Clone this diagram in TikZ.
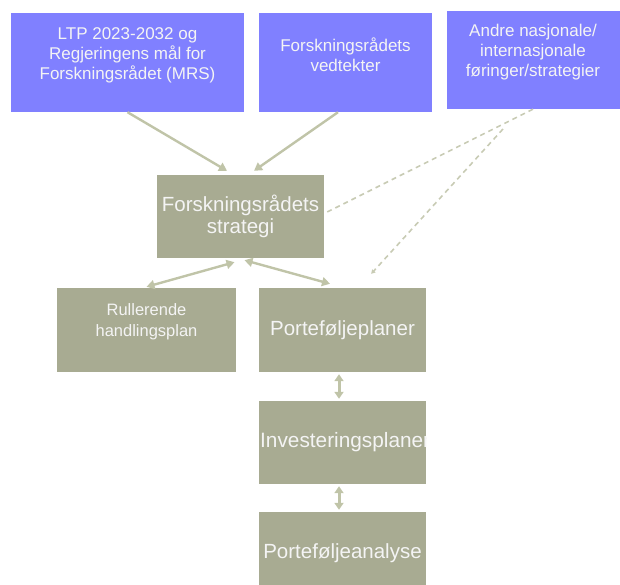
\documentclass[tikz,border=0pt]{standalone}
\usepackage{fontspec}
\setmainfont{Liberation Sans}
\usetikzlibrary{arrows.meta}
\definecolor{topblue}{RGB}{128,128,255}
\definecolor{olivebox}{RGB}{168,171,146}
\definecolor{conncol}{RGB}{192,196,168}
\definecolor{dashcol}{RGB}{200,203,180}
\definecolor{txtcol}{RGB}{244,244,244}
\begin{document}
\begin{tikzpicture}[x=1pt,y=-1pt,
  topbox/.style={fill=topblue, draw=none, inner sep=0pt},
  olbox/.style={fill=olivebox, draw=none, inner sep=0pt, text=txtcol, align=center},
  toptext/.style={text=txtcol, align=center, font=\fontsize{17}{20}\selectfont, inner sep=0pt},
  bigtext/.style={font=\fontsize{20.5}{22}\selectfont},
  midtext/.style={text=txtcol, align=center, font=\fontsize{16.5}{21}\selectfont, inner sep=0pt},
  onearrow/.style={draw=conncol, line width=2.4pt, -{Triangle[length=8pt,width=9pt]}},
  twoarrow/.style={draw=conncol, line width=2.4pt, {Triangle[length=8pt,width=9pt]}-{Triangle[length=8pt,width=9pt]}},
  shortarrow/.style={draw=conncol, line width=3pt, {Triangle[length=7pt,width=9pt]}-{Triangle[length=7pt,width=9pt]}},
  dashline/.style={draw=dashcol, line width=1.6pt, dash pattern=on 5pt off 4pt},
]
\useasboundingbox (0,0) rectangle (620,585);
\clip (0,0) rectangle (620,585);

% top boxes
\node[topbox, minimum width=233pt, minimum height=99pt] (b1) at (127.5,62.5) {};
\node[topbox, minimum width=173pt, minimum height=99pt] (b2) at (345.5,62.5) {};
\node[topbox, minimum width=178pt, minimum height=98pt] (b3) at (536,60) {};
\node[toptext] (b1t) at (127.5,55) {LTP 2023-2032 og\\Regjeringens mål for\\Forskningsrådet (MRS)};
\node[toptext] (b2t) at (345.5,55) {Forskningsrådets\\vedtekter};
\node[toptext] (b3t) at (533,52) {Andre nasjonale/\\internasjonale\\føringer/strategier};

% olive boxes
\node[olbox, bigtext, minimum width=167pt, minimum height=83pt] (strat) at (240.5,216.5) {Forskningsrådets\\strategi};
\node[olbox, minimum width=179pt, minimum height=84pt] (rull) at (146.5,330) {};
\node[midtext] (rullt) at (146.5,321.5) {Rullerende\\handlingsplan};
\node[olbox, bigtext, minimum width=167pt, minimum height=84pt] (pp) at (342.5,330) {Porteføljeplaner};
\node[olbox, minimum width=167pt, minimum height=83pt] (inv) at (342.5,442.5) {};
\begin{scope}
  \clip (inv.north west) rectangle (inv.south east);
  \node[text=txtcol, inner sep=0pt, anchor=west, font=\fontsize{20.8}{22}\selectfont] (invt) at (260,442) {Investeringsplaner};
\end{scope}
\node[olbox, bigtext, minimum width=167pt, minimum height=83pt] (ana) at (342.5,553.5) {Porteføljeanalyse};

% connectors
\draw[onearrow] (b1.south) -- ([shift={(-13.5,-4)}]strat.north);
\draw[onearrow] ([xshift=-7.5pt]b2.south) -- ([shift={(13.5,-4)}]strat.north);
\draw[dashline] ([xshift=-3pt]b3.south) -- ([shift={(2,-4)}]strat.east);
\coordinate (d2start) at (503,129);
\draw[dashline, -{Triangle[length=4pt,width=4.5pt]}] (d2start) -- ([shift={(-55,-14)}]pp.north east);
\draw[twoarrow] ([shift={(-6,4)}]strat.south) -- ([shift={(0,-1)}]rull.north);
\draw[twoarrow] ([shift={(4,2)}]strat.south) -- ([shift={(-12.5,-4)}]pp.north);
\draw[shortarrow] ([shift={(-3.5,2)}]pp.south) -- ([shift={(-3.5,-2)}]inv.north);
\draw[shortarrow] ([shift={(-3.5,2)}]inv.south) -- ([shift={(-3.5,-2)}]ana.north);
\end{tikzpicture}
\end{document}
